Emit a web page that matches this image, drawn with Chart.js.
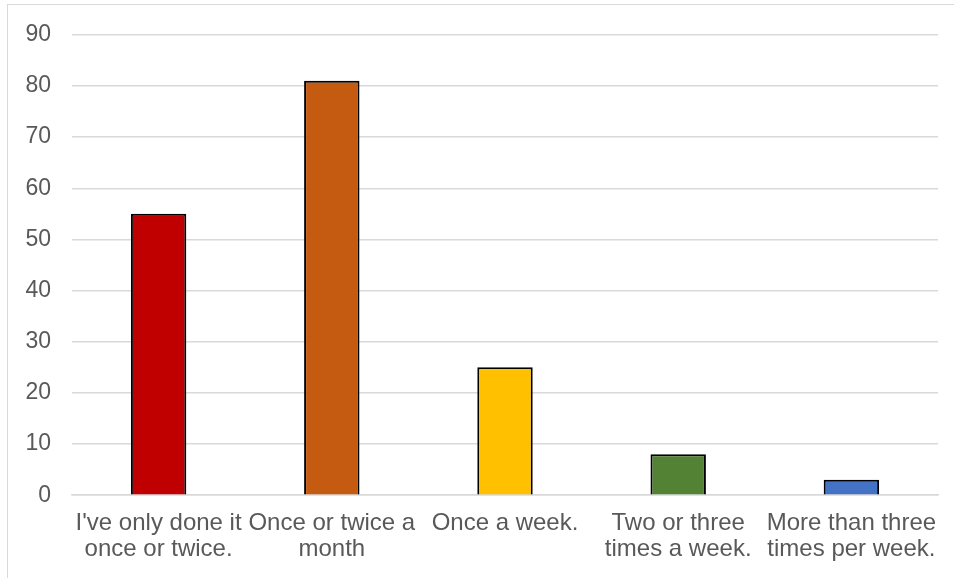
<!DOCTYPE html>
<html>
<head>
<meta charset="utf-8">
<script src="https://cdn.jsdelivr.net/npm/chart.js@4.4.0/dist/chart.umd.min.js"></script>
<style>
    html, body { margin: 0; padding: 0; background: #fff; overflow: hidden; }
    .frame {
        position: absolute; left: 7px; top: 4px;
        width: 980px; height: 620px;
        border: 1.5px solid #d9d9d9;
    }
    .wrap { position: absolute; left: 0; top: 0; width: 954px; height: 578px; }
</style>
</head>
<body>
<div class="frame"></div>
<div class="wrap"><canvas id="freqChart"></canvas></div>
<script>
// Answers and their counts
const categories = [
    ["I've only done it", "once or twice."],
    ["Once or twice a", "month"],
    ["Once a week."],
    ["Two or three", "times a week."],
    ["More than three", "times per week."]
];
const counts = [55, 81, 25, 8, 3];
const barColors = ['#C00000', '#C55A11', '#FFC000', '#548235', '#4472C4'];

const yMin = 0;
const yMax = 90;
const yStep = 10;

document.addEventListener('DOMContentLoaded', function() {
    const ctx = document.getElementById('freqChart').getContext('2d');
    new Chart(ctx, {
        type: 'bar',
        data: {
            labels: categories,
            datasets: [{
                data: counts,
                backgroundColor: barColors,
                borderColor: '#000000',
                borderWidth: 2,
                borderSkipped: 'bottom',
                categoryPercentage: 1,
                barPercentage: 0.32
            }]
        },
        options: {
            responsive: true,
            maintainAspectRatio: false,
            animation: false,
            layout: { padding: { top: 18, right: 16, left: 0, bottom: 0 } },
            plugins: {
                legend: { display: false },
                tooltip: { enabled: false }
            },
            scales: {
                x: {
                    grid: { display: false, drawTicks: false },
                    border: { display: true, color: '#d9d9d9', width: 1.5 },
                    ticks: {
                        color: '#595959',
                        font: { family: 'Liberation Sans, Arial', size: 24, lineHeight: 1.1 },
                        padding: 15,
                        maxRotation: 0,
                        autoSkip: false
                    }
                },
                y: {
                    min: yMin,
                    max: yMax,
                    grid: { color: '#d9d9d9', lineWidth: 1.5, drawTicks: false },
                    border: { display: false },
                    afterFit: function(scale) { scale.width = 72; },
                    ticks: {
                        stepSize: yStep,
                        color: '#595959',
                        font: { family: 'Liberation Sans, Arial', size: 23 },
                        padding: 21
                    }
                }
            }
        }
    });
});
</script>
</body>
</html>
